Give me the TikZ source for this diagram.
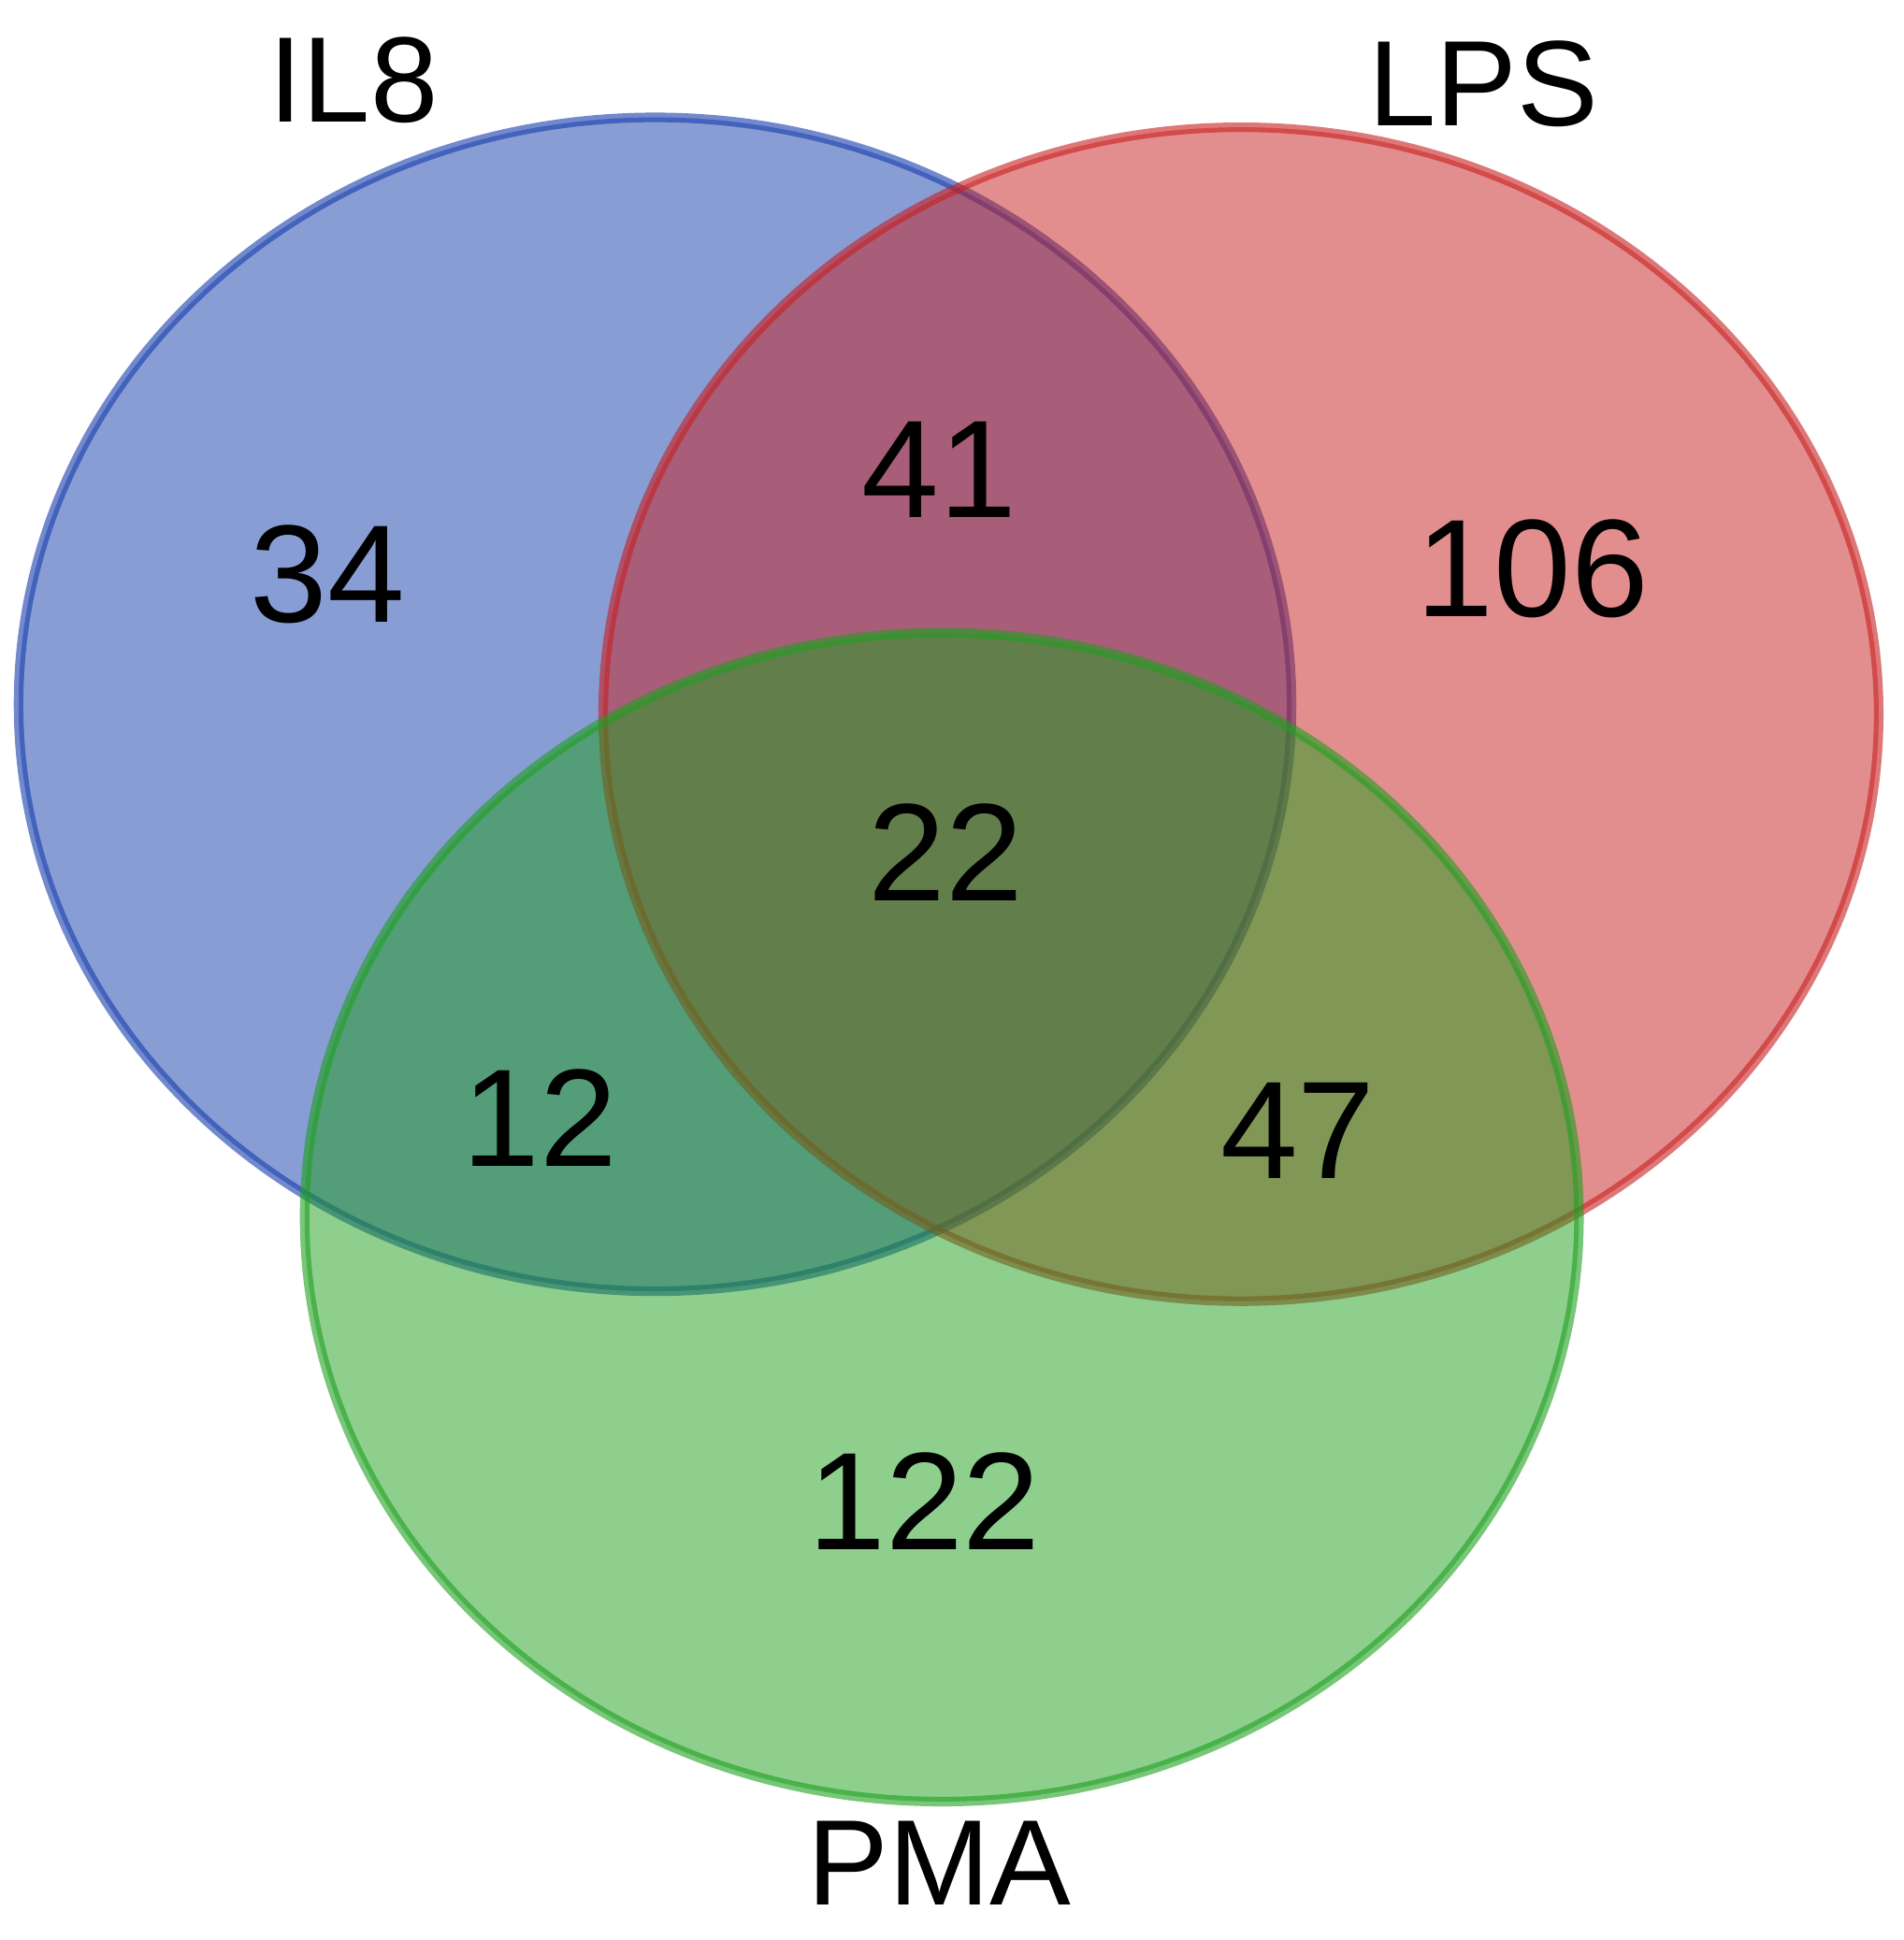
\documentclass[tikz,border=0pt]{standalone}
\usepackage{fontspec}
\setmainfont{Liberation Sans}
\definecolor{cblue}{RGB}{20,60,172}
\definecolor{cred}{RGB}{200,30,30}
\definecolor{cgreen}{RGB}{30,160,30}
\begin{document}
\begin{tikzpicture}[x=1cm,y=1cm,
  setc/.style={line width=2.2pt, fill opacity=0.5, draw opacity=0.6},
  lab/.style={font=\fontsize{32}{38}\selectfont, text=black},
  tit/.style={font=\fontsize{28}{34}\selectfont, text=black}]
\useasboundingbox (0,0) rectangle (15.4,15.7);
\fill[white] (0,0) rectangle (15.4,15.7);
\path[setc, fill=cblue, draw=cblue] (5.30,10.00) ellipse [x radius=5.15, y radius=4.75];
\path[setc, fill=cred, draw=cred] (10.04,9.92) ellipse [x radius=5.16, y radius=4.75];
\path[setc, fill=cgreen, draw=cgreen] (7.62,5.85) ellipse [x radius=5.155, y radius=4.73];
\node[tit] (lil) at (2.86,15.05) {IL8};
\node[tit] (llps) at (12.00,15.02) {LPS};
\node[tit] (lpma) at (7.60,0.62) {PMA};
\node[lab] (n34) at (2.65,11.05) {34};
\node[lab] (n41) at (7.60,11.90) {41};
\node[lab] (n106) at (12.40,11.10) {106};
\node[lab] (n22) at (7.65,8.80) {22};
\node[lab] (n12) at (4.37,6.65) {12};
\node[lab] (n47) at (10.50,6.55) {47};
\node[lab] (n122) at (7.48,3.55) {122};
\end{tikzpicture}
\end{document}
